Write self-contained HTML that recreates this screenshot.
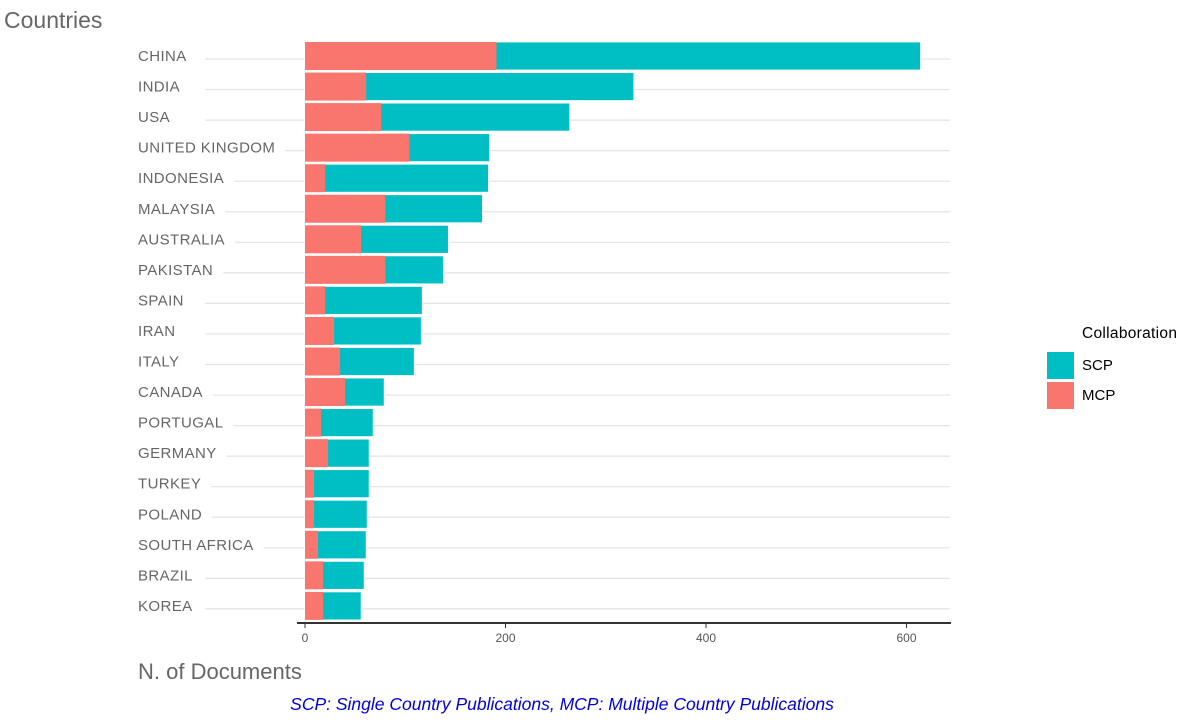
<!DOCTYPE html>
<html><head><meta charset="utf-8"><style>
body{margin:0;background:#fff;width:1200px;height:721px;overflow:hidden;font-family:"Liberation Sans",sans-serif}
</style></head><body>
<svg id="c" width="1200" height="721" font-family="Liberation Sans, sans-serif">
<text x="4" y="28" font-size="23" fill="#666">Countries</text>
<text x="138" y="679" font-size="22" fill="#666">N. of Documents</text>
<text x="562" y="710" font-size="17.5" fill="#0000dd" font-style="italic" text-anchor="middle">SCP: Single Country Publications, MCP: Multiple Country Publications</text>
<g>
<text x="1082" y="338" font-size="15.5" fill="#000" letter-spacing="0.3">Collaboration</text>
<rect x="1047" y="352" width="27" height="27" fill="#00BFC4"/>
<text x="1082" y="370" font-size="15" fill="#000">SCP</text>
<rect x="1047" y="382" width="27" height="27" fill="#F8766D"/>
<text x="1082" y="400" font-size="15" fill="#000">MCP</text>
</g>
<g id="plot"></g>
</svg>
<script>
const countries=["CHINA","INDIA","USA","UNITED KINGDOM","INDONESIA","MALAYSIA","AUSTRALIA","PAKISTAN","SPAIN","IRAN","ITALY","CANADA","PORTUGAL","GERMANY","TURKEY","POLAND","SOUTH AFRICA","BRAZIL","KOREA"];
const mcp=[191,61,76,104,20,80,56,80,20,29,35,40,16,23,9,9,13,18,18];
const total=[614,328,264,184,183,177,143,138,117,116,109,79,68,64,64,62,61,59,56];
const ticks=[0,200,400,600];
const NS="http://www.w3.org/2000/svg";
const g=document.getElementById('plot');
const x=v=>305+v*1.0025;
const y=i=>56+i*30.55;
function el(t,a){const e=document.createElementNS(NS,t);for(const k in a)e.setAttribute(k,a[k]);g.appendChild(e);return e;}
const labels=[];
countries.forEach((c,i)=>{
 const lb=el('text',{x:138,y:y(i)+5,'font-size':15,fill:'#666','letter-spacing':0.4});
 lb.textContent=c;
 
 
 labels.push(lb);
});
countries.forEach((c,i)=>{
 const end=138+labels[i].getComputedTextLength()+10;
 const gl=el('line',{x1:Math.max(205,end),x2:950,y1:y(i)+3,y2:y(i)+3,stroke:'#e4e4e4','stroke-width':1.2});
 
 
});
ticks.forEach(t=>{
 const l=el('line',{x1:x(t),x2:x(t),y1:623,y2:628,stroke:'#333'});
 
 
 const tx=el('text',{x:x(t),y:642,'font-size':12,fill:'#555','text-anchor':'middle'});
 tx.textContent=t;
 
 
});
countries.forEach((c,i)=>{
 const s=el('rect',{x:x(0),y:y(i)-14,width:x(total[i])-x(0),height:28,fill:'#00BFC4',stroke:'#fff','stroke-width':0.8});
 
 
 const m=el('rect',{x:x(0),y:y(i)-14,width:x(mcp[i])-x(0),height:28,fill:'#F8766D'});
 
 
});
const ax=el('line',{x1:297,x2:951,y1:623,y2:623,stroke:'#333','stroke-width':2});


</script>
</body></html>
